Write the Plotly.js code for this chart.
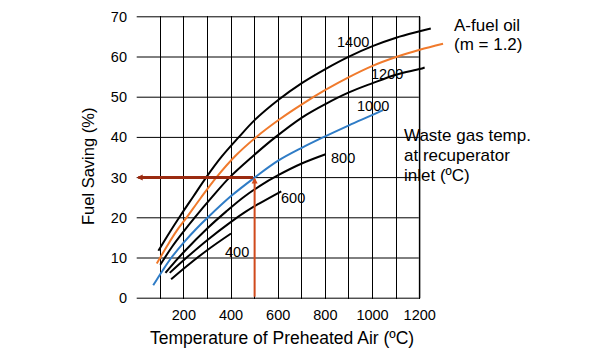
<!DOCTYPE html>
<html>
<head>
<meta charset="utf-8">
<script src="https://cdn.plot.ly/plotly-3.0.1.min.js"></script>
<style>html,body{margin:0;padding:0;background:#fff;}#chart{width:600px;height:355px;}</style>
</head>
<body>
<div id="chart"></div>
<script>
// ---- data ----
const xTickVals = [0,100,200,300,400,500,600,700,800,900,1000,1100,1200];
const xTickText = ["","","200","","400","","600","","800","","1000","","1200"];
const yTickVals = [0,10,20,30,40,50,60,70];

const c1400x = [92,140,185,240,294,360,432,500,600,700,800,900,1000,1100,1200,1247];
const c1400y = [11.8,16.4,20.5,25.3,30,35.2,40,44.3,49.3,53.5,57.0,60.1,62.7,64.8,66.4,67.1];

const fuelOilX = [85,130,170,212,270,337,420,505,603,702,800,900,1000,1100,1200,1299];
const fuelOilY = [8.6,13.1,16.8,20.1,24.8,30,35.5,40,44.4,48.3,51.8,55.0,57.8,60.0,61.8,63.3];

const c1200x = [100,150,200,245,320,393,490,587,702,800,900,1000,1100,1200,1221];
const c1200y = [8.3,12.8,16.7,20,25.2,30,35.2,40,45,48.3,51.2,53.5,55.6,57.0,57.4];

const c1000x = [70,110,146,200,250,300,400,500,600,700,790,900,1000,1044];
const c1000y = [3.2,6.9,10,13.9,17.1,20,25.4,30,34.2,37.4,40,43.0,45.6,46.8];

const c800x = [122,160,200,300,380,450,521,600,700,801];
const c800y = [6.3,8.9,11.5,17.4,21.6,25.0,27.9,30.6,33.5,35.8];

const c600x = [140,200,300,400,464,521,613];
const c600y = [6.3,9.5,14.5,19.0,21.6,23.6,26.6];

const c400x = [146,200,300,400];
const c400y = [4.7,7.4,12.0,16.1];

const curveLabels = ["1400","1200","1000","800","600","400"];
const readAirTemp = 500;   // example reading
const readSaving = 30;

// ---- styling / layout ----
const FONT = "Arial, 'Liberation Sans', sans-serif";
function tr(x,y,color){return {x:x,y:y,type:"scatter",mode:"lines",line:{color:color,width:2,shape:"spline",smoothing:1},hoverinfo:"skip",showlegend:false};}

const traces = [
  tr(c1400x,c1400y,"#000"),
  tr(fuelOilX,fuelOilY,"#f07a2c"),
  tr(c1200x,c1200y,"#000"),
  tr(c1000x,c1000y,"#2f7cc6"),
  tr(c800x,c800y,"#000"),
  tr(c600x,c600y,"#000"),
  tr(c400x,c400y,"#000")
];

const shapes = [];
yTickVals.forEach(v=>{
  shapes.push({type:"line",xref:"x",yref:"y",x0:xTickVals[0],x1:xTickVals[xTickVals.length-1],y0:v,y1:v,line:{color:"#000",width:1},layer:"below"});
});
shapes.push({type:"line",xref:"x",yref:"y",x0:1200,x1:1200,y0:0,y1:70,line:{color:"#808080",width:2},layer:"below"});

const labelPos = [[917,63.8],[1060,55.8],[1004,47.8],[876,34.9],[664,24.9],[424,11.6]];
const annotations = curveLabels.map((t,i)=>({x:labelPos[i][0],y:labelPos[i][1],xref:"x",yref:"y",text:t,showarrow:false,font:{family:FONT,size:14.5,color:"#000"}}));

// reading lines
annotations.push({x:readAirTemp,y:readSaving,ax:readAirTemp,ay:0,xref:"x",yref:"y",axref:"x",ayref:"y",text:"",showarrow:true,arrowhead:2,arrowsize:0.6,arrowwidth:2,arrowcolor:"#d04a1c"});
annotations.push({x:0,y:readSaving,ax:readAirTemp,ay:readSaving,xref:"x",yref:"y",axref:"x",ayref:"y",text:"",showarrow:true,arrowhead:2,arrowsize:0.4,arrowwidth:3,arrowcolor:"#9a2a10"});

function py2paper(py){return (299-py)/283;}
function px2paper(px){return (px-136)/312;}
const sideText = [
  ["A-fuel oil",452,25.7],["(m = 1.2)",452,45],
  ["Waste gas temp.",402,135],["at recuperator",402,155],["inlet (ºC)",402,175]
];
sideText.forEach(s=>annotations.push({x:px2paper(s[1]),y:py2paper(s[2]),xref:"paper",yref:"paper",xanchor:"left",yanchor:"middle",text:s[0],showarrow:false,font:{family:FONT,size:17,color:"#000"}}));

// axis titles
annotations.push({x:px2paper(282),y:py2paper(338),xref:"paper",yref:"paper",xanchor:"center",yanchor:"middle",text:"Temperature of Preheated Air (ºC)",showarrow:false,font:{family:FONT,size:17.5,color:"#000"}});
annotations.push({x:px2paper(88),y:py2paper(167),xref:"paper",yref:"paper",xanchor:"center",yanchor:"middle",textangle:-90,text:"Fuel Saving (%)",showarrow:false,font:{family:FONT,size:16.5,color:"#000"}});

const layout = {
  width:600,height:355,
  margin:{l:136,r:152,t:16,b:56,pad:0},
  paper_bgcolor:"#fff",plot_bgcolor:"#fff",
  showlegend:false,
  xaxis:{range:[-3,1320],tickmode:"array",tickvals:xTickVals,ticktext:xTickText,showgrid:true,gridcolor:"#000",gridwidth:1,zeroline:false,showline:false,ticks:"",ticklabelstandoff:5,tickfont:{family:FONT,size:14.5,color:"#000"},fixedrange:true},
  yaxis:{range:[-0.2,70.2],tickmode:"array",tickvals:yTickVals,showgrid:false,zeroline:false,showline:false,ticks:"",ticklabelstandoff:8,tickfont:{family:FONT,size:14.5,color:"#000"},fixedrange:true},
  shapes:shapes,
  annotations:annotations
};
Plotly.newPlot("chart",traces,layout,{staticPlot:true,displayModeBar:false});
</script>
</body>
</html>
